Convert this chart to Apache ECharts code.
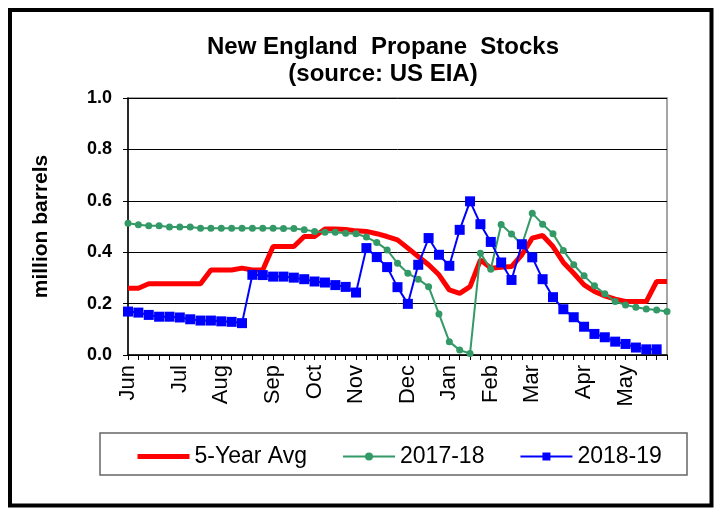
<!DOCTYPE html>
<html>
<head>
<meta charset="utf-8">
<script src="https://cdn.jsdelivr.net/npm/echarts@6/dist/echarts.min.js"></script>
<style>
  html, body { margin: 0; padding: 0; background: #fff; }
  #chart { width: 715px; height: 508px; }
</style>
</head>
<body>
<div id="chart"></div>
<script>
// weekly points, Jun .. May (53 weeks)
var nWeeks = 53
var monthNames = ['Jun', 'Jul', 'Aug', 'Sep', 'Oct', 'Nov', 'Dec', 'Jan', 'Feb', 'Mar', 'Apr', 'May']
var monthWeek = [0, 5, 9, 14, 18, 22, 27, 31, 35, 39, 44, 48]

var avg5yr = [
  0.260, 0.260, 0.277, 0.277, 0.277, 0.277, 0.277, 0.277, 0.331, 0.331,
  0.331, 0.338, 0.331, 0.331, 0.422, 0.422, 0.422, 0.461, 0.461, 0.490,
  0.490, 0.488, 0.483, 0.481, 0.472, 0.461, 0.448, 0.416, 0.383, 0.351,
  0.312, 0.253, 0.240, 0.266, 0.370, 0.338, 0.341, 0.344, 0.390, 0.455,
  0.465, 0.422, 0.360, 0.318, 0.273, 0.247, 0.230, 0.217, 0.208, 0.208,
  0.208, 0.286, 0.286
]
var y2017 = [
  0.513, 0.507, 0.503, 0.503, 0.498, 0.498, 0.498, 0.493, 0.493, 0.493,
  0.493, 0.493, 0.493, 0.493, 0.493, 0.492, 0.492, 0.487, 0.481, 0.478,
  0.478, 0.474, 0.472, 0.459, 0.438, 0.409, 0.357, 0.318, 0.295, 0.266,
  0.160, 0.052, 0.019, 0.006, 0.396, 0.334, 0.508, 0.471, 0.429, 0.552,
  0.509, 0.472, 0.407, 0.351, 0.308, 0.269, 0.238, 0.208, 0.195, 0.186,
  0.179, 0.175, 0.169
]
var y2018 = [
  0.169, 0.165, 0.156, 0.149, 0.149, 0.146, 0.139, 0.134, 0.134, 0.131,
  0.129, 0.124, 0.312, 0.311, 0.305, 0.305, 0.301, 0.295, 0.286, 0.282,
  0.272, 0.265, 0.243, 0.416, 0.381, 0.342, 0.264, 0.199, 0.351, 0.455,
  0.390, 0.347, 0.487, 0.598, 0.509, 0.440, 0.360, 0.292, 0.431, 0.380,
  0.295, 0.225, 0.178, 0.147, 0.110, 0.082, 0.069, 0.052, 0.043, 0.029,
  0.022, 0.022, null
]

var weeks = []
for (var i = 0; i < nWeeks; i++) {
  var k = monthWeek.indexOf(i)
  weeks.push(k >= 0 ? monthNames[k] : '')
}

var font = "'Liberation Sans', Arial, sans-serif"

var option = {
  animation: false,
  backgroundColor: '#fff',
  title: {
    text: 'New England  Propane  Stocks\n(source: US EIA)',
    left: 378,
    top: 29,
    textAlign: 'center',
    textStyle: { fontFamily: font, fontSize: 24, fontWeight: 'bold', color: '#000', lineHeight: 27 }
  },
  legend: {
    left: 130,
    top: 440,
    itemWidth: 52,
    itemHeight: 10,
    itemGap: 35,
    textStyle: { fontFamily: font, fontSize: 23, color: '#000' },
    data: [
      // plain thick line, no marker
      { name: '5-Year Avg', itemStyle: { opacity: 0 }, lineStyle: { width: 5 } },
      '2017-18',
      '2018-19'
    ]
  },
  grid: {
    left: 128,
    right: 48,
    top: 98,
    bottom: 153,
    show: true,
    borderColor: '#888',
    borderWidth: 1.5
  },
  xAxis: {
    type: 'category',
    data: weeks,
    boundaryGap: false,
    axisLine: { lineStyle: { color: '#000', width: 1.5 } },
    axisTick: { interval: 0, length: 5, lineStyle: { color: '#000' } },
    axisLabel: {
      interval: 0,
      rotate: 90,
      margin: 10,
      fontFamily: font,
      fontSize: 22,
      color: '#000'
    },
    splitLine: { show: false }
  },
  yAxis: {
    type: 'value',
    min: 0,
    max: 1,
    interval: 0.2,
    name: 'million barrels',
    nameLocation: 'middle',
    nameGap: 76,
    nameRotate: 90,
    nameTextStyle: { fontFamily: font, fontSize: 21, fontWeight: 'bold', color: '#000' },
    axisLine: { show: true, lineStyle: { color: '#000', width: 1.5 } },
    axisTick: { show: true, length: 5, lineStyle: { color: '#000' } },
    axisLabel: {
      margin: 16,
      fontFamily: font,
      fontSize: 18,
      fontWeight: 'bold',
      color: '#000',
      formatter: function (v) { return v.toFixed(1) }
    },
    splitLine: { lineStyle: { color: '#000', width: 1 } }
  },
  series: [
    {
      name: '5-Year Avg',
      type: 'line',
      data: avg5yr,
      symbol: 'none',
      lineStyle: { color: '#ff0000', width: 5 },
      itemStyle: { color: '#ff0000' }
    },
    {
      name: '2017-18',
      type: 'line',
      data: y2017,
      symbol: 'circle',
      symbolSize: 7,
      lineStyle: { color: '#339966', width: 2 },
      itemStyle: { color: '#339966' }
    },
    {
      name: '2018-19',
      type: 'line',
      data: y2018,
      symbol: 'rect',
      symbolSize: 10,
      lineStyle: { color: '#0000ff', width: 2 },
      itemStyle: { color: '#0000ff' }
    }
  ],
  graphic: [
    {
      type: 'rect',
      shape: { x: 100, y: 433, width: 587, height: 42 },
      style: { fill: 'none', stroke: '#666', lineWidth: 1.5 },
      z: 0
    },
    {
      type: 'rect',
      shape: { x: 10, y: 10, width: 701.5, height: 495.5 },
      style: { fill: 'none', stroke: '#000', lineWidth: 4 },
      z: 0
    }
  ]
}

var chart = echarts.init(document.getElementById('chart'))
chart.setOption(option)
</script>
</body>
</html>
